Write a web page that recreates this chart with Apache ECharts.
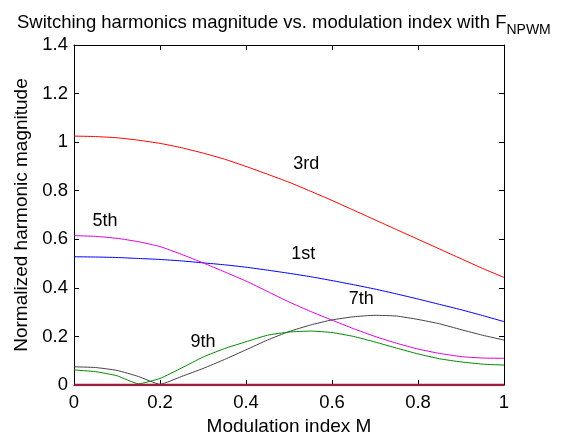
<!DOCTYPE html>
<html>
<head>
<meta charset="utf-8">
<script src="https://cdn.jsdelivr.net/npm/echarts@6/dist/echarts.min.js"></script>
<style>
  html, body { margin: 0; padding: 0; background: #fff; }
  #chart { width: 577px; height: 438px; }
</style>
</head>
<body>
<div id="chart"></div>
<script>
  // modulation index M, 0 .. 1 in 0.05 steps
  const modIndex = [0, 0.05, 0.1, 0.15, 0.2, 0.25, 0.3, 0.35, 0.4, 0.45, 0.5,
    0.55, 0.6, 0.65, 0.7, 0.75, 0.8, 0.85, 0.9, 0.95, 1]

  // harmonic magnitudes
  const h1st = [0.528, 0.527, 0.525, 0.521, 0.517, 0.511, 0.503, 0.495, 0.485, 0.473, 0.46,
    0.446, 0.43, 0.413, 0.395, 0.375, 0.354, 0.332, 0.31, 0.286, 0.261]
  const h3rd = [1.025, 1.023, 1.018, 1.008, 0.995, 0.977, 0.955, 0.93, 0.9, 0.868, 0.835,
    0.798, 0.76, 0.72, 0.68, 0.64, 0.6, 0.56, 0.52, 0.48, 0.443]
  const h5th = [0.615, 0.612, 0.604, 0.59, 0.57, 0.538, 0.503, 0.466, 0.428, 0.385, 0.342,
    0.303, 0.267, 0.232, 0.2, 0.172, 0.148, 0.13, 0.117, 0.111, 0.11]
  const h7th = [0.075, 0.072, 0.06, 0.035, 0.003, 0.035, 0.068, 0.105, 0.145, 0.185, 0.22,
    0.247, 0.268, 0.281, 0.287, 0.284, 0.27, 0.252, 0.228, 0.205, 0.185]
  const h9th = [0.062, 0.055, 0.038, 0.005, 0.027, 0.07, 0.115, 0.15, 0.178, 0.205, 0.218,
    0.222, 0.216, 0.2, 0.177, 0.152, 0.128, 0.108, 0.095, 0.086, 0.082]
  const hZero = modIndex.map(() => 0)

  const xTicks = { min: 0, max: 1, interval: 0.2 }
  const yTicks = { min: 0, max: 1.4, interval: 0.2 }

  // curve names and where their text sits (M, magnitude)
  const curveLabels = {
    '1st': [0.533, 0.54],
    '3rd': [0.54, 0.91],
    '5th': [0.072, 0.675],
    '7th': [0.668, 0.354],
    '9th': [0.30, 0.177]
  }

  const font = 'Liberation Sans, Arial, Helvetica, sans-serif'

  function pairs(ys) {
    return modIndex.map((m, i) => [m, ys[i]])
  }

  function curve(name, ys, color) {
    let s = {
      name: name,
      type: 'line',
      data: pairs(ys),
      showSymbol: false,
      symbol: 'none',
      smooth: 0.15,
      lineStyle: { color: color, width: 1 },
      z: 3
    }
    if (curveLabels[name]) {
      s.markPoint = {
        symbol: 'circle',
        symbolSize: 0,
        data: [{ coord: curveLabels[name], value: name }],
        label: {
          show: true,
          position: 'inside',
          formatter: name,
          color: '#000',
          fontSize: 18,
          fontFamily: font
        }
      }
    }
    return s
  }

  const axisCommon = {
    axisLine: { show: true, onZero: false, lineStyle: { color: '#000', width: 1 } },
    axisTick: { show: true, inside: true, length: 5, lineStyle: { color: '#000' } },
    splitLine: { show: false }
  }

  let chart = echarts.init(document.getElementById('chart'))
  chart.setOption({
    animation: false,
    backgroundColor: '#fff',
    title: {
      text: 'Switching harmonics magnitude vs. modulation index with F{sub|NPWM}',
      left: 12,
      top: 3,
      textStyle: {
        fontSize: 18.5,
        fontWeight: 'normal',
        color: '#000',
        fontFamily: font,
        rich: {
          sub: { fontSize: 14, color: '#000', fontFamily: font, padding: [15, 0, 0, 0] }
        }
      }
    },
    grid: { left: 74, right: 73, top: 45, bottom: 53, containLabel: false, outerBoundsMode: 'none' },
    xAxis: [
      Object.assign({
        type: 'value',
        position: 'bottom',
        min: xTicks.min, max: xTicks.max, interval: xTicks.interval,
        name: 'Modulation index M',
        nameLocation: 'middle',
        nameGap: 32,
        nameTextStyle: { fontSize: 19, color: '#000', fontFamily: font },
        axisLabel: { color: '#000', fontSize: 18.5, fontFamily: font, margin: 8 }
      }, axisCommon),
      Object.assign({
        type: 'value',
        position: 'top',
        min: xTicks.min, max: xTicks.max, interval: xTicks.interval,
        axisLabel: { show: false }
      }, axisCommon)
    ],
    yAxis: [
      Object.assign({
        type: 'value',
        position: 'left',
        min: yTicks.min, max: yTicks.max, interval: yTicks.interval,
        name: 'Normalized harmonic magnitude',
        nameLocation: 'middle',
        nameGap: 42,
        nameTextStyle: { fontSize: 19, color: '#000', fontFamily: font },
        axisLabel: { color: '#000', fontSize: 18.5, fontFamily: font, margin: 6 }
      }, axisCommon),
      Object.assign({
        type: 'value',
        position: 'right',
        min: yTicks.min, max: yTicks.max, interval: yTicks.interval,
        axisLabel: { show: false }
      }, axisCommon)
    ],
    series: [
      curve('3rd', h3rd, '#ff0000'),
      curve('1st', h1st, '#0000ff'),
      curve('5th', h5th, '#dd00dd'),
      curve('7th', h7th, '#444444'),
      curve('9th', h9th, '#008800'),
      {
        name: 'zero',
        type: 'line',
        data: pairs(hZero),
        showSymbol: false,
        symbol: 'none',
        lineStyle: { color: '#a01c3c', width: 2.5 },
        z: 4
      }
    ]
  })
</script>
</body>
</html>
